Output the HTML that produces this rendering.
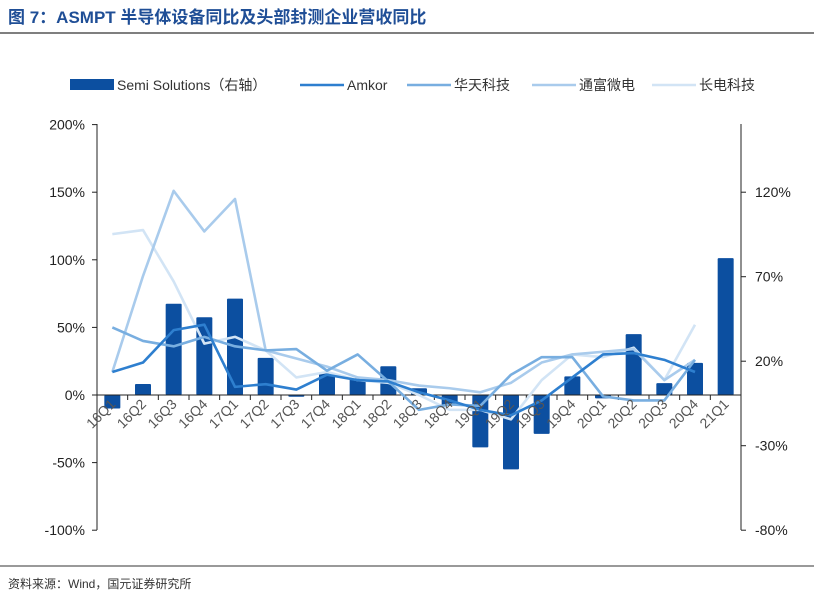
<!DOCTYPE html>
<html><head><meta charset="utf-8"><style>
body{margin:0;background:#fff;font-family:"Liberation Sans","Noto Sans CJK SC",sans-serif;}
svg text{font-family:"Liberation Sans","Noto Sans CJK SC",sans-serif;}
</style></head><body>
<svg id="chart" width="814" height="594">
<text x="8" y="23" font-size="17" font-weight="bold" fill="#1f4e96">图 7：ASMPT 半导体设备同比及头部封测企业营收同比</text>
<line x1="0" y1="33" x2="814" y2="33" stroke="#333" stroke-width="1.2"/>
<line x1="0" y1="566" x2="814" y2="566" stroke="#333" stroke-width="1"/>
<text x="8" y="588" font-size="12" fill="#333">资料来源：Wind，国元证券研究所</text>
<g id="legend"></g>
<g id="plot"></g>
</svg>
<script>
const categories=["16Q1","16Q2","16Q3","16Q4","17Q1","17Q2","17Q3","17Q4","18Q1","18Q2","18Q3","18Q4","19Q1","19Q2","19Q3","19Q4","20Q1","20Q2","20Q3","20Q4","21Q1"];
const semiValues=[-8,6.5,54,46,57,22,-1,13,10,17,4,-6,-31,-44,-23,11,-2,36,7,19,81];
const amkorValues=[17,24,48,52,6,8,4,15,11,10,2,-4,-11,-15,-4,13,30,31,26,17];
const huatianValues=[50,40,36,43,36,33,34,18,30,10,-11,-7,-8,15,28,28,-1,-4,-4,26];
const tongfuValues=[17,88,151,121,145,33,27,21,13,11,7,5,2,9,24,30,32,34,11,26];
const changdianValues=[119,122,84,38,43,33,13,17,11,9,0,-11,-11,-18,11,30,28,35,11,52];
const leftTicks=[200,150,100,50,0,-50,-100];
const rightTicks=[120,70,20,-30,-80];
const seriesNames=["Semi Solutions（右轴）","Amkor","华天科技","通富微电","长电科技"];
const colors=["#0c4fa0","#2e7fcf","#78aee0","#a9cbec","#d2e4f5"];

const NS="http://www.w3.org/2000/svg";
const plot=document.getElementById('plot');
const X0=97,X1=741,Y0=395;
const step=(X1-X0)/categories.length;
const xC=i=>X0+step*(i+0.5);
const yL=v=>Y0-v*1.352;
const yR=v=>Y0-v*1.69;
function mk(tag,attrs,parent){const e=document.createElementNS(NS,tag);for(const k in attrs)e.setAttribute(k,attrs[k]);(parent||plot).appendChild(e);return e;}

// axes
let a=mk('line',{x1:X0,y1:124,x2:X0,y2:530,stroke:'#222'});


a=mk('line',{x1:X1,y1:124,x2:X1,y2:530,stroke:'#222'});


leftTicks.forEach(v=>{
  mk('line',{x1:X0-5,x2:X0,y1:yL(v),y2:yL(v),stroke:'#222'});
  const t=mk('text',{x:X0-12,y:yL(v)+5,'text-anchor':'end','font-size':14,fill:'#222'});
  t.textContent=v+'%';
  
  
});
rightTicks.forEach(v=>{
  mk('line',{x1:X1,x2:X1+5,y1:yR(v),y2:yR(v),stroke:'#222'});
  const t=mk('text',{x:X1+14,y:yR(v)+5,'font-size':14,fill:'#222'});
  t.textContent=v+'%';
  
  
});
// bars
semiValues.forEach((v,i)=>{
  const y=Math.min(yR(v),Y0),h=Math.abs(yR(v)-Y0);
  const r=mk('rect',{x:xC(i)-8,y:y,width:16,height:Math.max(h,1),fill:colors[0],rx:1});
  
  
});
// zero axis
a=mk('line',{x1:X0,x2:X1,y1:Y0,y2:Y0,stroke:'#222'});


for(let i=0;i<=categories.length;i++)mk('line',{x1:X0+step*i,x2:X0+step*i,y1:Y0,y2:Y0+5,stroke:'#222'});
// lines
[[changdianValues,4],[tongfuValues,3],[huatianValues,2],[amkorValues,1]].forEach(([vals,c])=>{
  const pts=vals.map((v,i)=>xC(i)+','+yL(v)).join(' ');
  const p=mk('polyline',{points:pts,fill:'none',stroke:colors[c],'stroke-width':2.6,'stroke-linejoin':'round'});
  
  
});
// x labels
categories.forEach((c,i)=>{
  const x=xC(i)+4,y=Y0+10;
  const t=mk('text',{x:x,y:y,'text-anchor':'end','font-size':14,fill:'#555',transform:`rotate(-45 ${x} ${y})`});
  t.textContent=c;
  
  
});
// legend
const lg=document.getElementById('legend');
const lx=[70,300,407,532,652];
seriesNames.forEach((n,i)=>{
  if(i===0){const r=mk('rect',{x:lx[i],y:79,width:44,height:11,fill:colors[0]},lg);}
  else{const l=mk('line',{x1:lx[i],x2:lx[i]+44,y1:85,y2:85,stroke:colors[i],'stroke-width':2.6},lg);}
  const t=mk('text',{x:lx[i]+47,y:90,'font-size':14,fill:'#333'},lg);
  t.textContent=n;
  
  
});
</script>
</body></html>
